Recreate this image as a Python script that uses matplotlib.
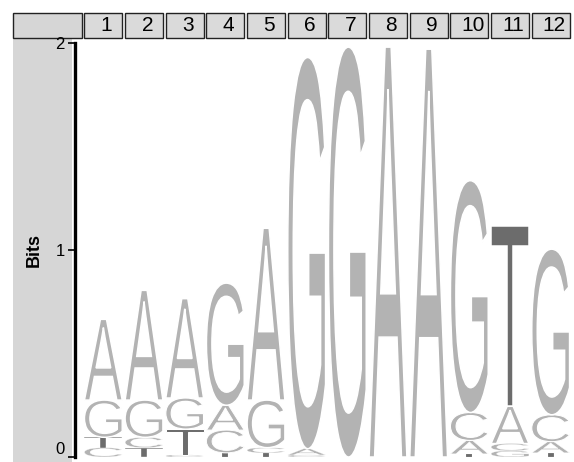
import matplotlib
matplotlib.use("Agg")
import matplotlib.pyplot as plt
from matplotlib.font_manager import FontProperties
from matplotlib.patches import PathPatch, Rectangle
from matplotlib.textpath import TextPath
from matplotlib.transforms import Affine2D, blended_transform_factory

# information content per letter (bits) at each position
positions = list(range(1, 13))
bits_A = [0.39, 0.53, 0.48, 0.12, 0.83, 0.03, 0.00, 1.98, 1.97, 0.065, 0.18, 0.054]
bits_C = [0.045, 0.05, 0.01, 0.11, 0.025, 0.01, 0.00, 0.00, 0.00, 0.135, 0.035, 0.13]
bits_G = [0.18, 0.18, 0.15, 0.59, 0.23, 1.89, 1.98, 0.00, 0.00, 1.12, 0.03, 0.80]
bits_T = [0.05, 0.045, 0.125, 0.02, 0.02, 0.00, 0.00, 0.00, 0.00, 0.015, 0.87, 0.02]
y_ticks = [0, 1, 2]

colors = {"A": "#b3b3b3", "C": "#b3b3b3", "G": "#b3b3b3", "T": "#6c6c6c"}
font = FontProperties(family="Liberation Sans")

W, H = 574, 462
fig = plt.figure(figsize=(W / 100, H / 100), dpi=100)

# logo axes: columns span x 83..571 px, y 0..2 bits span 457..43 px
ax = fig.add_axes([83 / W, (H - 457) / H, (571 - 83) / W, (457 - 43) / H])
ax.set_xlim(0.5, 12.5)
ax.set_ylim(0, 2)


def draw_letter(ch, x, y0, h, color):
    tp = TextPath((0, 0), ch, size=1, prop=font)
    bb = tp.get_extents()
    tr = (Affine2D().translate(-bb.x0 - bb.width / 2, -bb.y0)
          .scale(0.93 / bb.width, h / bb.height).translate(x, y0))
    # thin white outline makes the strokes a little lighter, like the original glyphs
    ax.add_patch(PathPatch(tr.transform_path(tp), fc=color, ec="white",
                           lw=min(1.1, 6 * h)))


for i, pos in enumerate(positions):
    stack = [("A", bits_A[i]), ("C", bits_C[i]), ("G", bits_G[i]), ("T", bits_T[i])]
    stack.sort(key=lambda s: s[1])
    y = 0.0
    for ch, h in stack:
        if h <= 0:
            continue
        draw_letter(ch, pos, y, h, colors[ch])
        y += h

# axis styling
for side in ("top", "right", "bottom"):
    ax.spines[side].set_visible(False)
ax.spines["left"].set_position(("outward", 6))
ax.spines["left"].set_linewidth(2.4)
ax.set_xticks([])
ax.set_yticks(y_ticks)
ax.set_yticklabels([str(t) for t in y_ticks], fontsize=12, family="Liberation Sans")
ax.get_yticklabels()[0].set_va("bottom")
ax.tick_params(axis="y", direction="out", length=5, width=1.2, pad=2)
ax.set_ylabel("Bits", fontsize=13, fontweight="bold", family="Liberation Sans", labelpad=9)

# left grey panel and header bar
fig.patches.append(Rectangle((13 / W, 0), (72 - 13) / W, (H - 38) / H,
                             transform=fig.transFigure, fc="#d6d6d6", ec="none", zorder=-5))
fig.patches.append(Rectangle((13 / W, (H - 38) / H), (82 - 13) / W, 25 / H,
                             transform=fig.transFigure, fc="#d6d6d6", ec="#222222",
                             lw=1.0, zorder=-5))

hdr = blended_transform_factory(ax.transData, ax.transAxes)
y_lo = 1 + 5 / 414
y_hi = 1 + 30 / 414
for pos in positions:
    ax.add_patch(Rectangle((pos - 0.47, y_lo), 0.94, y_hi - y_lo, transform=hdr,
                           fc="#dadada", ec="#222222", lw=1.0, clip_on=False))
    ax.text(pos + 0.08, (y_lo + y_hi) / 2, str(pos), transform=hdr, ha="center",
            va="center", fontsize=15, family="Liberation Sans", clip_on=False)

fig.savefig("out.png", dpi=100)
